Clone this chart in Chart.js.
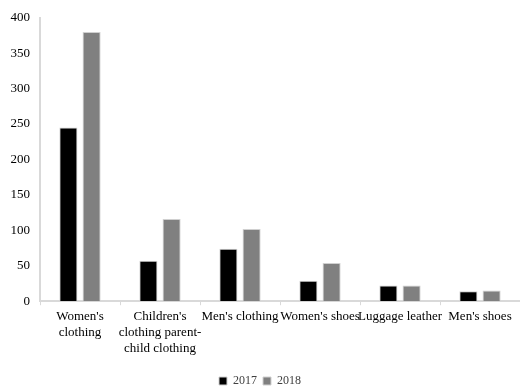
<!DOCTYPE html>
<html>
<head>
<meta charset="utf-8">
<script src="https://cdn.jsdelivr.net/npm/chart.js@4/dist/chart.umd.min.js"></script>
<style>
  html, body { margin: 0; padding: 0; background: #fff; }
  #wrap { width: 520px; height: 388px; }
</style>
</head>
<body>
<div id="wrap"><canvas id="grafico"></canvas></div>
<script>
// dados
const categorias = [
  ["Women's", "clothing"],
  ["Children's", "clothing parent-", "child clothing"],
  "Men's clothing",
  "Women's shoes",
  "Luggage leather",
  "Men's shoes"
];
const valores2017 = [245, 57, 74, 29, 22, 14];
const valores2018 = [380, 116, 102, 54, 22, 15];
const ticksY = [0, 50, 100, 150, 200, 250, 300, 350, 400];

const fonte = "'Liberation Serif', 'Times New Roman', serif";

const data = {
  labels: categorias,
  datasets: [
    {
      label: '2017',
      data: valores2017,
      backgroundColor: '#000000',
      borderColor: '#d0d0d0',
      borderWidth: 1,
      categoryPercentage: 0.58,
      barPercentage: 0.78
    },
    {
      label: '2018',
      data: valores2018,
      backgroundColor: '#808080',
      borderColor: '#d0d0d0',
      borderWidth: 1,
      categoryPercentage: 0.58,
      barPercentage: 0.78
    }
  ]
};

const config = {
  type: 'bar',
  data: data,
  options: {
    responsive: true,
    maintainAspectRatio: false,
    animation: false,
    layout: { padding: { top: 10, right: 0, left: 0, bottom: -9 } },
    plugins: {
      legend: {
        position: 'bottom',
        labels: {
          boxWidth: 8,
          boxHeight: 8,
          color: '#404040',
          font: { family: fonte, size: 12 },
          padding: 6
        }
      },
      tooltip: { enabled: false }
    },
    scales: {
      x: {
        afterFit: (scale) => { scale.height += 9; },
        grid: {
          display: true,
          drawOnChartArea: false,
          color: '#d9d9d9',
          tickLength: 4,
          offset: true
        },
        border: { color: '#d9d9d9', width: 2 },
        ticks: {
          color: '#000000',
          font: { family: fonte, size: 13 },
          maxRotation: 0,
          autoSkip: false,
          padding: 4
        }
      },
      y: {
        min: 0,
        max: 400,
        afterBuildTicks: (scale) => { scale.ticks = ticksY.map(v => ({ value: v })); },
        afterFit: (scale) => { scale.width = 40; },
        grid: { display: false, drawTicks: false },
        border: { color: '#d9d9d9', width: 2 },
        ticks: {
          color: '#000000',
          font: { family: fonte, size: 13 },
          padding: 10
        }
      }
    }
  }
};

const ctx = document.getElementById('grafico').getContext('2d');
new Chart(ctx, config);
</script>
</body>
</html>
